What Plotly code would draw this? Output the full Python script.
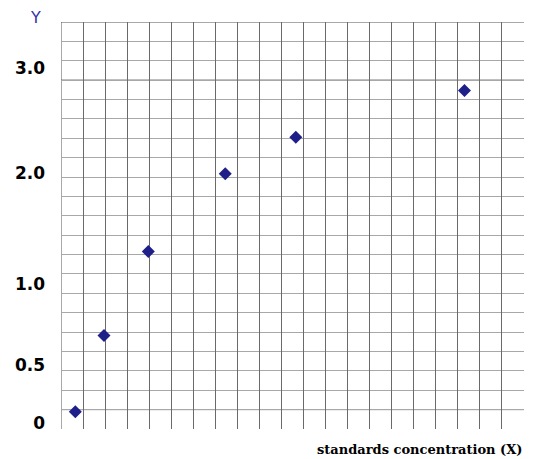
import plotly.graph_objects as go

# Data, in grid-square units (21 x 21 grid)
x_values = [0.65, 1.95, 3.96, 7.45, 10.65, 18.3]
y_values = [0.89, 4.83, 9.16, 13.17, 15.05, 17.46]

# Y tick labels and their positions (grid units)
y_tick_pos = [0.33, 3.29, 7.46, 13.23, 18.65]
y_tick_text = ["0", "0.5", "1.0", "2.0", "3.0"]

# Darker horizontal reference lines (grid units)
dark_rows = [1, 18, 21]

fig = go.Figure()
fig.add_trace(go.Scatter(
    x=x_values, y=y_values, mode="markers",
    marker=dict(symbol="diamond", size=10, color="#1f1f8a", line=dict(width=0)),
    showlegend=False, hoverinfo="x+y",
))

shapes = []
for r in dark_rows:
    shapes.append(dict(type="line", xref="x", yref="y", x0=0, x1=21, y0=r, y1=r,
                       line=dict(color="#555555", width=1), layer="below"))
# left border
shapes.append(dict(type="line", xref="x", yref="y", x0=0, x1=0, y0=0, y1=21,
                   line=dict(color="#555555", width=1), layer="below"))

# The page body adds an 8px margin, so the figure is sized to fit inside the window
fig.update_layout(
    width=530, height=451,
    margin=dict(l=53, r=14, t=14, b=30, autoexpand=False),
    paper_bgcolor="white", plot_bgcolor="white",
    xaxis=dict(range=[0, 21], tick0=0, dtick=1, showticklabels=False, ticks="",
               showgrid=True, gridcolor="#6a6a6a", gridwidth=1, automargin=False,
               zeroline=False, showline=False, fixedrange=True),
    yaxis=dict(range=[0, 21], tickmode="array", tickvals=y_tick_pos, ticktext=y_tick_text,
               ticks="", showgrid=False, zeroline=False, showline=False,
               ticklabelstandoff=15, automargin=False,
               tickfont=dict(family="DejaVu Sans, sans-serif", size=17,
                             color="black", weight="bold"),
               minor=dict(tick0=0, dtick=1, showgrid=True, gridcolor="#a8a8a8", gridwidth=1),
               fixedrange=True),
    shapes=shapes,
    annotations=[
        dict(text="Y", xref="paper", yref="paper", x=-0.055, y=1.0, xanchor="center",
             yanchor="middle", yshift=5, showarrow=False,
             font=dict(family="DejaVu Sans, sans-serif", size=16, color="#3535a5")),
        dict(text="<b>standards concentration (X)</b>", xref="paper", yref="paper",
             x=1.0, y=0, xanchor="right", yanchor="middle", yshift=-20, showarrow=False,
             font=dict(family="DejaVu Serif, serif", size=13, color="black")),
    ],
)

fig.write_html("out.html")
